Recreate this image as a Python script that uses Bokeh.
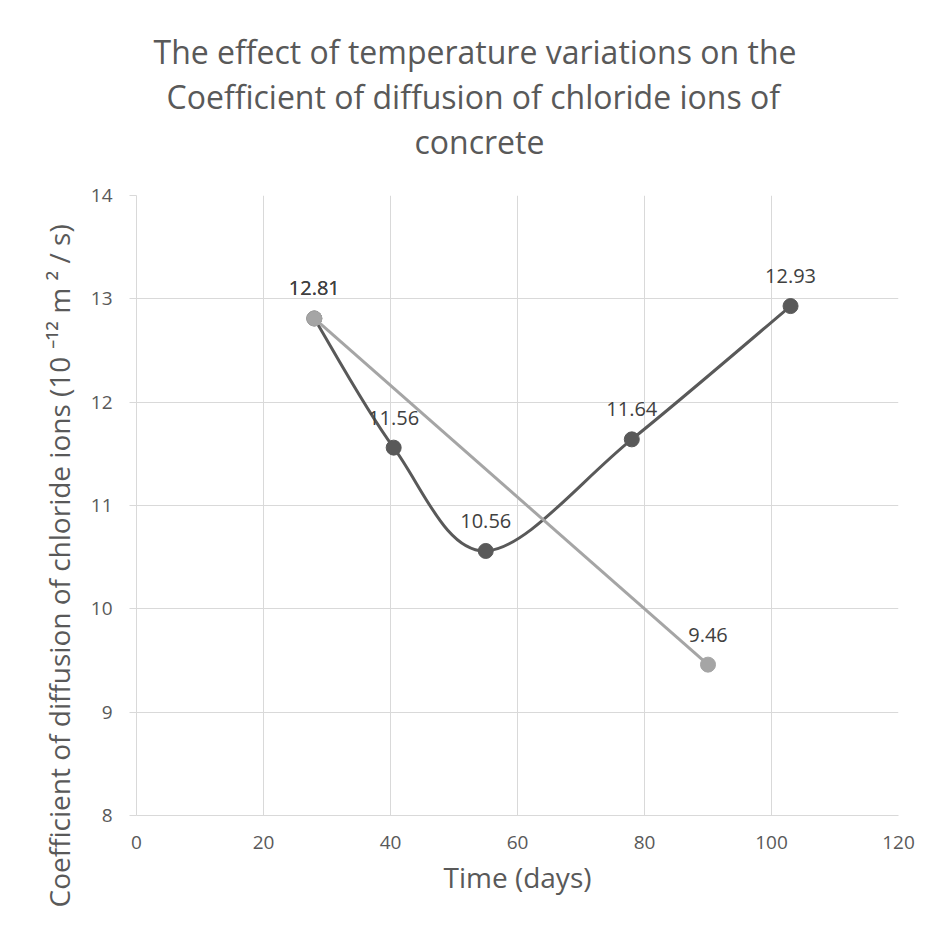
from bokeh.plotting import figure
from bokeh.models import Range1d, FixedTicker, ColumnDataSource, Title
from bokeh.core.properties import value
from bokeh.embed import file_html
from bokeh.resources import INLINE

# ---- data ----
dark_x = [28, 40.5, 55, 78, 103]
dark_y = [12.81, 11.56, 10.56, 11.64, 12.93]
light_x = [28, 90]
light_y = [12.81, 9.46]
x_ticks = [0, 20, 40, 60, 80, 100, 120]
y_ticks = [8, 9, 10, 11, 12, 13, 14]
title_lines = ["The effect of temperature variations on the",
               "Coefficient of diffusion of chloride ions of",
               "concrete"]
x_label = "Time (days)"
y_label = "Coefficient of diffusion of chloride ions (10 \u207b\u00b9\u00b2 m \u00b2 / s)"

FONT = "Open Sans"
DARK = "#595959"
LIGHT = "#a5a5a5"
GRID = "#d9d9d9"

# layout (pixels)
W, H = 930, 930
LEFT, TOP, RIGHT, BOTTOM = 136, 195, 898, 815


def smooth_segments(xs, ys):
    # cubic Bezier control points of a Catmull-Rom style smoothed line
    n = len(xs)
    seg = dict(x0=[], y0=[], x1=[], y1=[], cx0=[], cy0=[], cx1=[], cy1=[])
    for i in range(n - 1):
        pm = max(i - 1, 0)
        pp = min(i + 2, n - 1)
        seg["x0"].append(xs[i]); seg["y0"].append(ys[i])
        seg["x1"].append(xs[i + 1]); seg["y1"].append(ys[i + 1])
        seg["cx0"].append(xs[i] + (xs[i + 1] - xs[pm]) / 6)
        seg["cy0"].append(ys[i] + (ys[i + 1] - ys[pm]) / 6)
        seg["cx1"].append(xs[i + 1] - (xs[pp] - xs[i]) / 6)
        seg["cy1"].append(ys[i + 1] - (ys[pp] - ys[i]) / 6)
    return seg


p = figure(width=W, height=H, x_range=Range1d(x_ticks[0], x_ticks[-1]),
           y_range=Range1d(y_ticks[0], y_ticks[-1]),
           output_backend="svg", toolbar_location=None, title=None,
           min_border_left=LEFT, min_border_right=W - RIGHT,
           min_border_top=TOP, min_border_bottom=H - BOTTOM,
           outline_line_color=None, background_fill_color="white", border_fill_color="white")

# grid
p.grid.grid_line_color = GRID
p.grid.grid_line_width = 1
p.xgrid.ticker = FixedTicker(ticks=x_ticks)
p.ygrid.ticker = FixedTicker(ticks=y_ticks)

# axes
p.xaxis.ticker = FixedTicker(ticks=x_ticks)
p.yaxis.ticker = FixedTicker(ticks=y_ticks)
for ax in (p.xaxis, p.yaxis):
    ax.axis_line_color = GRID
    ax.major_tick_line_color = GRID
    ax.minor_tick_line_color = None
    ax.major_tick_in = 0
    ax.major_label_text_font = FONT
    ax.major_label_text_font_size = "19px"
    ax.major_label_text_color = DARK
p.xaxis.major_tick_out = 0
p.xaxis.major_label_standoff = 20
p.yaxis.major_tick_out = 7
p.yaxis.major_label_standoff = 17

p.xaxis.axis_label = x_label
p.xaxis.axis_label_text_font = FONT
p.xaxis.axis_label_text_font_size = "28px"
p.xaxis.axis_label_text_font_style = "normal"
p.xaxis.axis_label_text_color = DARK
p.xaxis.axis_label_standoff = 6

# y label as a left-side title, starting below the frame like the reference
p.add_layout(Title(text=y_label, align="left", offset=-92, text_font=FONT,
                   text_font_size="28px", text_font_style="normal", text_color=DARK,
                   standoff=20), "left")

# spacer between frame and title block
p.add_layout(Title(text=" ", text_font_size="1px", standoff=30), "above")

# chart title: three lines, added innermost first
for line, off in zip(reversed(title_lines), [278, 30, 17]):
    p.add_layout(Title(text=line, align="left", offset=off, text_font=FONT,
                       text_font_size="32px", text_font_style="normal", text_color=DARK,
                       standoff=0), "above")

# dark smoothed series
seg = ColumnDataSource(smooth_segments(dark_x, dark_y))
p.bezier(x0="x0", y0="y0", x1="x1", y1="y1", cx0="cx0", cy0="cy0", cx1="cx1", cy1="cy1",
         source=seg, line_color=DARK, line_width=3)
p.scatter(dark_x, dark_y, size=15, fill_color=DARK, line_color=DARK)

# light straight series
p.line(light_x, light_y, line_color=LIGHT, line_width=3)
p.scatter(light_x, light_y, size=15, fill_color=LIGHT, line_color=LIGHT)

# data labels
p.text(dark_x, dark_y, text=[f"{v:.2f}" for v in dark_y], text_font=value(FONT),
       text_font_size="20px", text_color="#404040", text_align="center",
       text_baseline="alphabetic", y_offset=-30)
p.text(light_x, light_y, text=[f"{v:.2f}" for v in light_y], text_font=value(FONT),
       text_font_size="20px", text_color="#404040", text_align="center",
       text_baseline="alphabetic", y_offset=-30)

open("out.html", "w").write(file_html(p, INLINE))
